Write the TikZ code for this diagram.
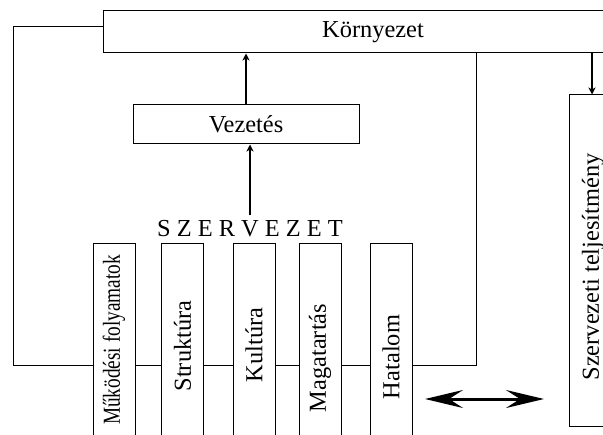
\documentclass[tikz,border=0pt]{standalone}
\usepackage{fontspec}
\setmainfont{Liberation Serif}
\usetikzlibrary{arrows.meta}
\tikzset{doboz/.style={draw=black, line width=0.5pt, inner sep=0pt},
felirat/.style={rotate=90, inner sep=0pt},
nyil/.style={line width=0.9pt, -{Stealth[length=3.5pt,width=3.5pt,inset=1pt]}},
ketnyil/.style={line width=1.5pt, {Stealth[length=19pt,width=9pt,inset=7pt]}-{Stealth[length=19pt,width=9pt,inset=7pt]}}}

\begin{document}
\begin{tikzpicture}[x=0.5pt,y=0.5pt,line width=0.5pt,font=\fontsize{12.2}{14}\selectfont]
\useasboundingbox (0,0) rectangle (603,434);
\node[doboz, minimum width=270pt, minimum height=21pt] (k) at (373,402) {Környezet};
\node[doboz, minimum width=113pt, minimum height=19.5pt] (v) at (246,309.5) {Vezetés};
\node[inner sep=2pt, anchor=base] (sz) at (250,198) {S Z E R V E Z E T};

% az oszlopok
\foreach \n/\x in {mf/114, st/182.5, ku/254, ma/320, ha/391}
  \node[doboz, minimum width=21pt, minimum height=118.5pt] (\n) at (\x,72.5) {};
\node[felirat] (tmf) at (114,94) {\scalebox{0.79}[1]{Működési folyamatok}};
\node[felirat] (tst) at (182.5,88) {Struktúra};
\node[felirat] (tku) at (254,89) {Kultúra};
\node[felirat] (tma) at (320,76) {Magatartás};
\node[felirat] (tha) at (391,77) {Hatalom};

\node[doboz, minimum width=23pt, minimum height=165.5pt] (szt) at (592,173.5) {};
\node[felirat] (tszt) at (593,167) {Szervezeti teljesítmény};

\coordinate (lt) at (13,407);
\coordinate (lb) at (13,69);
\coordinate (rb) at (476,69);
\coordinate (dl) at (425,35);
\coordinate (dr) at (544,35);

\draw (k.west |- lt)--(lt)--(lb)--(lb -| mf.west);
\draw (mf.east |- lb)--(st.west |- lb) (st.east |- lb)--(ku.west |- lb)
      (ku.east |- lb)--(ma.west |- lb) (ma.east |- lb)--(ha.west |- lb);
\draw (ha.east |- rb)--(rb)--(rb |- k.south);
\draw[nyil] (v.north)--(v.north |- k.south);
\draw[nyil] (sz.north)--(sz.north |- v.south);
\draw[nyil] (szt.north |- k.south)--(szt.north);
\draw[ketnyil] (dl)--(dr);
\end{tikzpicture}
\end{document}
